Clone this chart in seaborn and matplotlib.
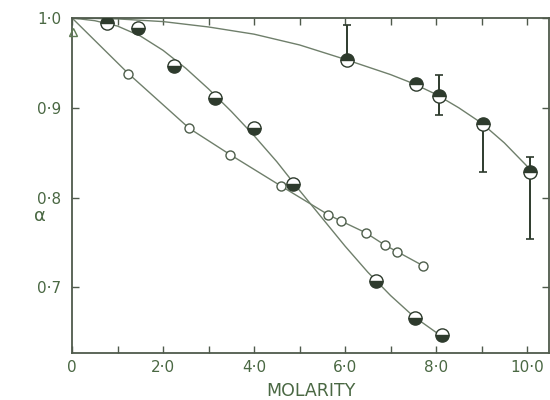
import matplotlib
matplotlib.use("Agg")
import matplotlib.pyplot as plt
import seaborn as sns
import numpy as np

# --- data -------------------------------------------------------------
# series 1: top-half filled circles, with asymmetric error bars
s1_x = [0.76, 6.04, 7.56, 8.07, 9.04, 10.07]
s1_y = [0.994, 0.953, 0.927, 0.913, 0.882, 0.829]
s1_err_lo = [0.0, 0.0, 0.0, 0.021, 0.054, 0.075]
s1_err_hi = [0.0, 0.039, 0.0, 0.024, 0.0, 0.016]
s1_curve_x = [0, 1, 2, 3, 4, 5, 6, 7, 7.5, 8, 8.5, 9, 9.5, 10, 10.1]
s1_curve_y = [1.0, 0.999, 0.996, 0.990, 0.982, 0.970, 0.954, 0.937,
              0.927, 0.915, 0.900, 0.883, 0.861, 0.835, 0.829]

# series 2: bottom-half filled circles
s2_x = [1.46, 2.23, 3.14, 3.99, 4.85, 6.67, 7.54, 8.12]
s2_y = [0.989, 0.946, 0.911, 0.877, 0.815, 0.707, 0.666, 0.647]
s2_curve_x = [0, 0.5, 1, 1.5, 2, 2.5, 3, 3.5, 4, 4.5, 5, 5.5,
              6, 6.5, 7, 7.5, 8, 8.15]
s2_curve_y = [1.0, 0.997, 0.991, 0.980, 0.964, 0.944, 0.921, 0.896,
              0.869, 0.840, 0.808, 0.777, 0.746, 0.717, 0.691,
              0.668, 0.650, 0.645]

# series 3: open circles
s3_x = [1.24, 2.58, 3.47, 4.59, 5.63, 5.91, 6.45, 6.88, 7.14, 7.72]
s3_y = [0.938, 0.877, 0.848, 0.813, 0.781, 0.774, 0.761, 0.747, 0.740, 0.724]
s3_curve_x = [0, 1.24, 2.58, 3.47, 4.59, 5.63, 5.91, 6.45, 6.88, 7.14, 7.72]
s3_curve_y = [1.0, 0.938, 0.877, 0.848, 0.813, 0.781, 0.774, 0.761,
              0.747, 0.740, 0.724]

# reference point at zero molarity
ref_x = [0.03]
ref_y = [0.984]

x_ticks = [0, 2, 4, 6, 8, 10]
x_tick_labels = ["0", "2·0", "4·0", "6·0", "8·0", "10·0"]
y_ticks = [0.7, 0.8, 0.9, 1.0]
y_tick_labels = ["0·7", "0·8", "0·9", "1·0"]

# --- style ------------------------------------------------------------
sns.set_style("ticks")
plt.rcParams["font.family"] = ["DejaVu Sans"]

line_col = "#6f7f6b"
ink = "#2e3b2d"
text_col = "#4a6843"
spine_col = "#4f5a4c"

fig = plt.figure(figsize=(5.5, 4), dpi=100)
ax = fig.add_axes([0.131, 0.1175, 0.867, 0.8375])

# fitted curves
for cx, cy in [(s1_curve_x, s1_curve_y), (s2_curve_x, s2_curve_y),
               (s3_curve_x, s3_curve_y)]:
    sns.lineplot(x=cx, y=cy, ax=ax, color=line_col, lw=1.0,
                 sort=False, estimator=None, zorder=2)

# error bars for series 1
ax.errorbar(s1_x, s1_y, yerr=[s1_err_lo, s1_err_hi], fmt="none",
            ecolor=ink, elinewidth=1.4, capsize=3, capthick=1.2, zorder=3)

# markers
ax.plot(s1_x, s1_y, ls="", marker="o", ms=9.5, fillstyle="top",
        markerfacecolor=ink, markerfacecoloralt="white",
        markeredgecolor=ink, mew=1.0, zorder=4)
ax.plot(s2_x, s2_y, ls="", marker="o", ms=9.5, fillstyle="bottom",
        markerfacecolor=ink, markerfacecoloralt="white",
        markeredgecolor=ink, mew=1.0, zorder=4)
ax.plot(s3_x, s3_y, ls="", marker="o", ms=6.5, markerfacecolor="white",
        markeredgecolor="#4e5e4b", mew=1.0, zorder=4)
ax.plot(ref_x, ref_y, ls="", marker="^", ms=6, markerfacecolor="none",
        markeredgecolor="#5f7a55", mew=1.0, zorder=4, clip_on=False)

# --- axes -------------------------------------------------------------
ax.set_xlim(0, 10.48)
ax.set_ylim(0.627, 1.0)

ax.set_xticks(x_ticks)
ax.set_xticklabels(x_tick_labels)
ax.set_xticks([1, 3, 5, 7, 9], minor=True)
ax.set_yticks(y_ticks)
ax.set_yticklabels(y_tick_labels)

ax.tick_params(axis="both", which="both", direction="in", length=5,
               width=1.0, color=spine_col, top=True, right=True,
               labelcolor=text_col, labelsize=11)
ax.tick_params(axis="x", which="major", pad=5)
ax.tick_params(axis="y", which="major", pad=8)

for sp in ax.spines.values():
    sp.set_color(spine_col)
    sp.set_linewidth(1.3)

ax.set_xlabel("MOLARITY", color=text_col, fontsize=12.5, va="top")
ax.xaxis.set_label_coords(0.5, -0.086)
ax.set_ylabel("α", color=text_col, fontsize=13, rotation=0, va="center",
              ha="center")
ax.yaxis.set_label_coords(-0.067, 0.41)

fig.savefig("out.png", dpi=100, facecolor="white")
